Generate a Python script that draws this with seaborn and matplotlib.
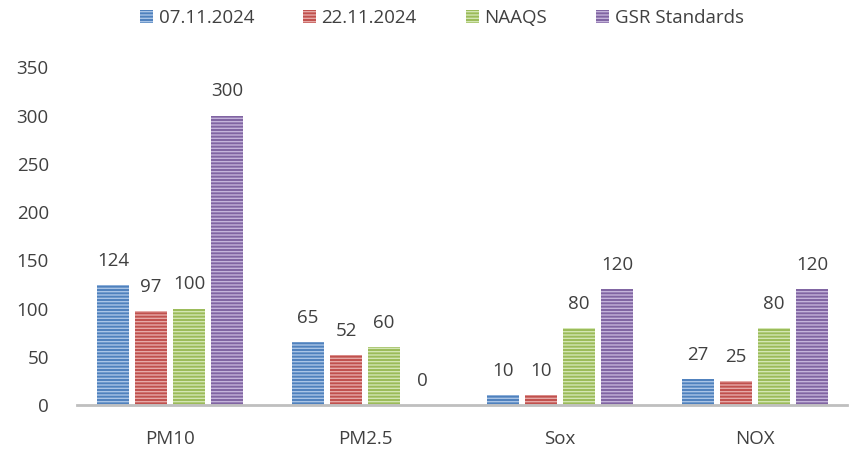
import matplotlib
matplotlib.use("Agg")
import matplotlib.pyplot as plt
import seaborn as sns
import pandas as pd
from matplotlib.patches import Patch

pollutants = ["PM10", "PM2.5", "Sox", "NOX"]
series_names = ["07.11.2024", "22.11.2024", "NAAQS", "GSR Standards"]
v_0711 = [124, 65, 10, 27]
v_2211 = [97, 52, 10, 25]
v_naaqs = [100, 60, 80, 80]
v_gsr = [300, 0, 120, 120]
y_ticks = [0, 50, 100, 150, 200, 250, 300, 350]

colors = ["#4F81BD", "#C0504D", "#9BBB59", "#8064A2"]
stripe = ["#A9C4E6", "#E6A9A7", "#D3E6B3", "#C4B3DA"]

rows = []
for name, vals in zip(series_names, [v_0711, v_2211, v_naaqs, v_gsr]):
    for p, v in zip(pollutants, vals):
        rows.append({"Pollutant": p, "Series": name, "Value": v})
df = pd.DataFrame(rows)

sns.set_theme(style="white")
plt.rcParams["font.family"] = ["Open Sans", "DejaVu Sans"]
plt.rcParams["hatch.linewidth"] = 1.0

fs = 13.5
fig = plt.figure(figsize=(8.51, 4.5), dpi=100)
ax = fig.add_axes([0.09, 0.1, 0.905, 0.75])

sns.barplot(data=df, x="Pollutant", y="Value", hue="Series", order=pollutants,
            hue_order=series_names, palette=colors, width=0.78, gap=0.16,
            ax=ax, legend=False, saturation=1)

# striped fill on each bar
for container, sc in zip(ax.containers, stripe):
    for bar in container:
        bar.set_hatch("-----")
        bar.set_edgecolor(sc)
        bar.set_linewidth(0)
    ax.bar_label(container, padding=11, fontsize=fs, color="#404040")

ax.set_ylim(0, 350)
ax.set_yticks(y_ticks)
ax.set_xlim(-0.48, 3.47)
ax.set_xlabel("")
ax.set_ylabel("")
ax.tick_params(axis="both", length=0, labelsize=fs, labelcolor="#404040")
ax.tick_params(axis="y", pad=20)
ax.tick_params(axis="x", pad=18)
for s in ["top", "right", "left"]:
    ax.spines[s].set_visible(False)
ax.spines["bottom"].set_color("#BFBFBF")
ax.spines["bottom"].set_linewidth(2)

handles = [Patch(facecolor=c, edgecolor=sc, hatch="-----", linewidth=0)
           for c, sc in zip(colors, stripe)]
fig.legend(handles, series_names, loc="upper center", bbox_to_anchor=(0.519, 1.018),
           ncol=4, frameon=False, fontsize=fs, handlelength=0.7, handleheight=0.7,
           handletextpad=0.3, columnspacing=2.6, labelcolor="#404040")

fig.savefig("out.png", dpi=100)
